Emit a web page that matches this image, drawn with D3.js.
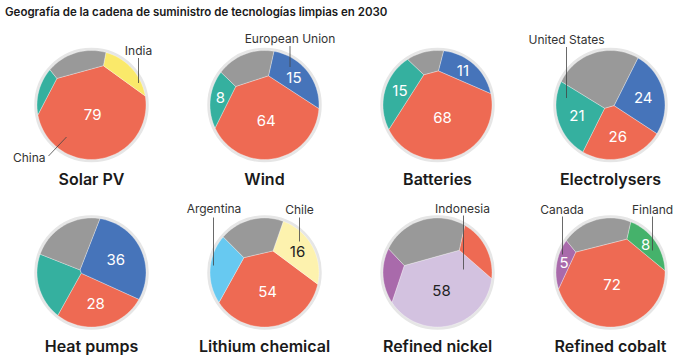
<!DOCTYPE html>
<html>
<head>
<meta charset="utf-8">
<script src="https://d3js.org/d3.v7.min.js"></script>
<style>
  body { margin: 0; background: #fff; font-family: Inter, "Open Sans", sans-serif; }
  .cell { stroke: #fff; stroke-width: 0.6; stroke-opacity: 0.5; }
  .value { font-size: 15px; text-anchor: middle; dominant-baseline: central; }
  .callout { font-size: 12px; fill: #333; }
  .leader { stroke: #444; stroke-width: 0.8; }
  .title { font-size: 16px; font-weight: 600; text-anchor: middle; fill: #1a1a1a; }
  .header { font-size: 11.5px; font-weight: 600; fill: #1a1a1a; }
</style>
</head>
<body>
<svg id="chart" width="685" height="362"></svg>
<script>
const titles = ["Solar PV", "Wind", "Batteries", "Electrolysers",
                "Heat pumps", "Lithium chemical", "Refined nickel", "Refined cobalt"];

const regions = [
  ["China", "India", "United States", "Rest of world"],
  ["China", "European Union", "United States", "Rest of world"],
  ["China", "European Union", "United States", "Rest of world"],
  ["China", "European Union", "United States", "Rest of world"],
  ["China", "European Union", "United States", "Rest of world"],
  ["China", "Chile", "Argentina", "Rest of world"],
  ["Indonesia", "China", "Canada", "Rest of world"],
  ["China", "Finland", "Canada", "Rest of world"]
];

const shares = [
  [79, 7, 4, 10],
  [64, 15, 8, 13],
  [68, 11, 15, 6],
  [26, 24, 21, 29],
  [28, 36, 17, 19],
  [54, 16, 13, 17],
  [58, 9, 7, 26],
  [72, 8, 5, 15]
];

// which cells print their number
const labelled = [
  [1, 0, 0, 0],
  [1, 1, 1, 0],
  [1, 1, 1, 0],
  [1, 1, 1, 0],
  [1, 1, 0, 0],
  [1, 1, 0, 0],
  [1, 0, 0, 0],
  [1, 1, 1, 0]
];

// starting sites for the voronoi layout (angle in degrees, fraction of radius)
const seedAngle = [
  [-95, 45, 170, 111],
  [-83, 42, 169, 114],
  [-76, 54, 163, 104],
  [-79, 9, 197, 114],
  [-84, 25, 197, 126],
  [-90, 31, 175, 112],
  [-82, 25, 188, 110],
  [-92, 33, 176, 113]
];
const seedRadius = [
  [0.27, 0.87, 0.86, 0.75],
  [0.38, 0.73, 0.78, 0.73],
  [0.30, 0.76, 0.69, 0.81],
  [0.56, 0.55, 0.59, 0.60],
  [0.52, 0.45, 0.68, 0.67],
  [0.35, 0.69, 0.71, 0.70],
  [0.36, 0.84, 0.82, 0.57],
  [0.36, 0.77, 0.88, 0.71]
];

const callouts = [
  {chart: 0, text: "India", tx: 47, ty: -50, anchor: "middle", line: [47, -47, 47, -22]},
  {chart: 0, text: "China", tx: -46, ty: 57, anchor: "end", line: [-43, 51, -25, 32]},
  {chart: 1, text: "European Union", tx: 25.5, ty: -62, anchor: "middle", line: [25.5, -59, 25.5, -38]},
  {chart: 3, text: "United States", tx: -44, ty: -61, anchor: "middle", line: [-44, -58, -44, -7]},
  {chart: 5, text: "Argentina", tx: -50.5, ty: -59.5, anchor: "middle", line: [-51, -55, -51, -7]},
  {chart: 5, text: "Chile", tx: 35, ty: -59, anchor: "middle", line: [35, -55, 35, -31]},
  {chart: 6, text: "Indonesia", tx: 25, ty: -60, anchor: "middle", line: [26, -57, 26, -3]},
  {chart: 7, text: "Canada", tx: -48.5, ty: -59, anchor: "middle", line: [-48, -56, -48, -18]},
  {chart: 7, text: "Finland", tx: 42, ty: -59, anchor: "middle", line: [42, -56, 42, -22]}
];

const color = d3.scaleOrdinal()
  .domain(["China", "European Union", "United States", "Rest of world", "India",
           "Chile", "Argentina", "Indonesia", "Canada", "Finland"])
  .range(["#ee6a53", "#4674ba", "#35b09f", "#999999", "#fae96a",
          "#fdf2ae", "#67c9f1", "#d3c2e0", "#a96aab", "#45b26b"]);
const darkText = ["Chile", "Indonesia", "India"];

const R = 54.5;
const colX = d3.scaleLinear().domain([0, 3]).range([91.5, 610.5]);
const rowY = [105, 272.5];

// --- power diagram voronoi treemap ---
function clipHalf(poly, a, b, c) {
  const out = [];
  for (let i = 0; i < poly.length; i++) {
    const p = poly[i], q = poly[(i + 1) % poly.length];
    const fp = a * p[0] + b * p[1] - c, fq = a * q[0] + b * q[1] - c;
    if (fp <= 0) out.push(p);
    if ((fp < 0 && fq > 0) || (fp > 0 && fq < 0)) {
      const t = fp / (fp - fq);
      out.push([p[0] + t * (q[0] - p[0]), p[1] + t * (q[1] - p[1])]);
    }
  }
  return out;
}

function powerCells(sites, w, clipPoly) {
  return sites.map((s, i) => {
    let poly = clipPoly;
    for (let j = 0; j < sites.length; j++) {
      if (j === i || poly.length === 0) continue;
      const t = sites[j];
      const a = 2 * (t[0] - s[0]), b = 2 * (t[1] - s[1]);
      const c = t[0] * t[0] + t[1] * t[1] - s[0] * s[0] - s[1] * s[1] - w[j] + w[i];
      poly = clipHalf(poly, a, b, c);
    }
    return poly;
  });
}

function voronoiTreemap(values, seeds, r) {
  const n = 96;
  const clipPoly = d3.range(n).map(k => {
    const t = 2 * Math.PI * k / n;
    return [r * Math.cos(t), r * Math.sin(t)];
  });
  const total = Math.abs(d3.polygonArea(clipPoly));
  const sum = d3.sum(values);
  const targets = values.map(v => v / sum * total);
  let sites = seeds.map(p => p.slice());
  const w = values.map(() => 0);
  let cells;
  for (let outer = 0; outer < 30; outer++) {
    for (let inner = 0; inner < 200; inner++) {
      cells = powerCells(sites, w, clipPoly);
      cells.forEach((c, i) => {
        const a = c.length > 2 ? Math.abs(d3.polygonArea(c)) : 0;
        w[i] += 0.15 * (targets[i] - a);
      });
    }
    sites = cells.map((c, i) => c.length > 2 ? d3.polygonCentroid(c) : sites[i]);
  }
  return powerCells(sites, w, clipPoly);
}

const svg = d3.select("#chart");

svg.append("text")
  .attr("class", "header")
  .attr("x", 5)
  .attr("y", 16)
  .text("Geografía de la cadena de suministro de tecnologías limpias en 2030");

titles.forEach((title, k) => {
  const g = svg.append("g")
    .attr("transform", `translate(${colX(k % 4)},${rowY[Math.floor(k / 4)]})`);

  const seeds = seedAngle[k].map((a, i) => {
    const rad = a * Math.PI / 180;
    return [seedRadius[k][i] * R * Math.cos(rad), -seedRadius[k][i] * R * Math.sin(rad)];
  });
  const cells = voronoiTreemap(shares[k], seeds, R);

  g.append("circle")
    .attr("r", R + 1)
    .attr("fill", "none")
    .attr("stroke", "#e6e6e6")
    .attr("stroke-width", 3.5);

  g.selectAll("path.cell")
    .data(cells)
    .enter()
    .append("path")
    .attr("class", "cell")
    .attr("d", c => "M" + c.map(p => p.join(",")).join("L") + "Z")
    .attr("fill", (c, i) => color(regions[k][i]));

  g.selectAll("text.value")
    .data(cells.map((c, i) => ({c, i})).filter(d => labelled[k][d.i]))
    .enter()
    .append("text")
    .attr("class", "value")
    .attr("x", d => d3.polygonCentroid(d.c)[0])
    .attr("y", d => d3.polygonCentroid(d.c)[1])
    .attr("fill", d => darkText.includes(regions[k][d.i]) ? "#222" : "#fff")
    .text(d => shares[k][d.i]);

  callouts.filter(c => c.chart === k).forEach(c => {
    g.append("line")
      .attr("class", "leader")
      .attr("x1", c.line[0]).attr("y1", c.line[1])
      .attr("x2", c.line[2]).attr("y2", c.line[3]);
    g.append("text")
      .attr("class", "callout")
      .attr("x", c.tx)
      .attr("y", c.ty)
      .attr("text-anchor", c.anchor)
      .text(c.text);
  });

  g.append("text")
    .attr("class", "title")
    .attr("y", 79.5)
    .text(title);
});
</script>
</body>
</html>
